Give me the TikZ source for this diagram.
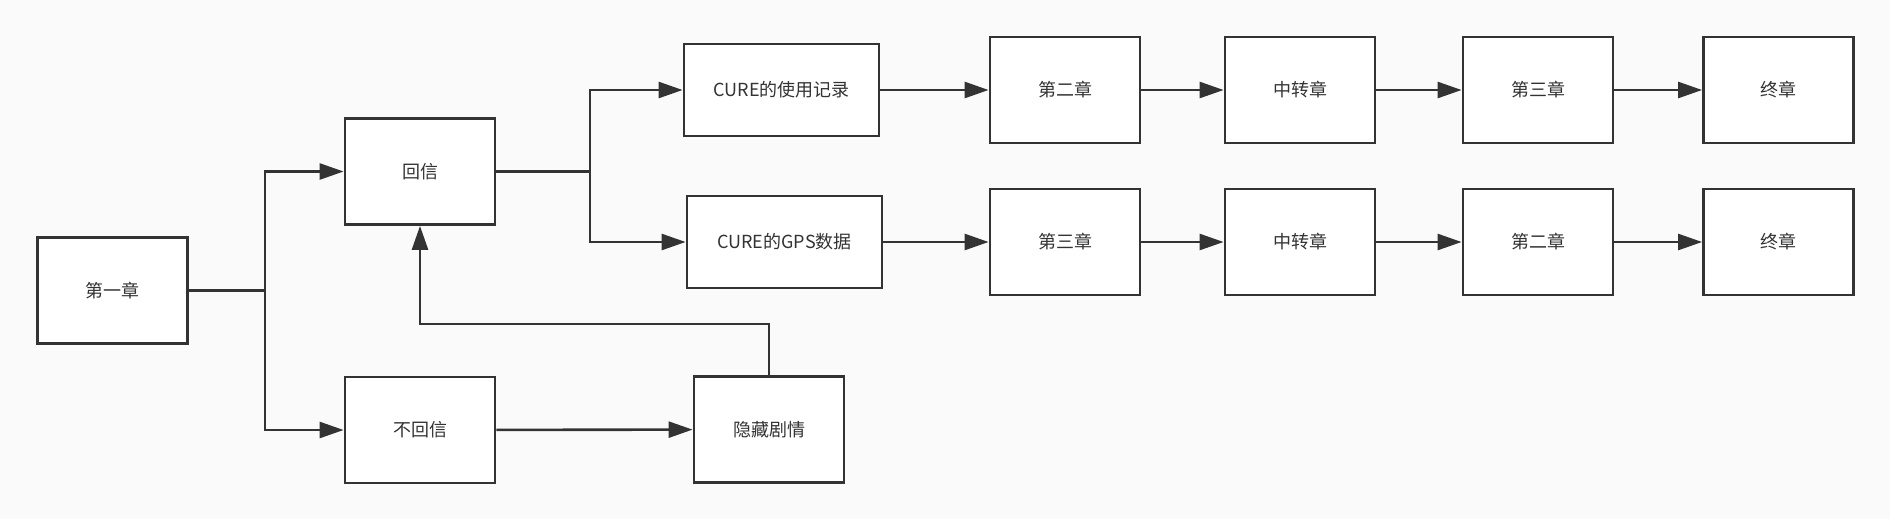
\documentclass[tikz,border=0pt]{standalone}
\usepackage{fontspec}
\setmainfont{Noto Sans CJK SC}
\usetikzlibrary{arrows.meta}
\definecolor{ink}{HTML}{333333}
\definecolor{bg}{HTML}{FAFAFA}
\begin{document}
\begin{tikzpicture}[x=1pt, y=-1pt]
 \tikzset{
  box/.style={rectangle, draw=ink, fill=white, line width=2.8pt, minimum width=150pt, minimum height=106pt, inner sep=0pt, text=ink, font=\fontsize{18}{20}\selectfont},
  wide/.style={box, minimum width=195pt, minimum height=92pt},
  con/.style={-{Triangle[length=24pt, width=16pt]}, draw=ink, line width=2.6pt},
  lin/.style={draw=ink, line width=2.6pt}
 }
 \def\ytop{90}
 \def\ybot{242}

 \path [fill=bg] (0,0) rectangle (1890,519);

 \node [box] (ch1) at (112.5,290.5) {第一章};
 \node [box] (reply) at (420,171.5) {回信};
 \node [box] (noreply) at (420,430) {不回信};
 \node [box] (hidden) at (769,429.5) {隐藏剧情};
 \node [wide] (log) at (781.5,\ytop) {CURE的使用记录};
 \node [wide] (gps) at (784.5,\ybot) {CURE的GPS数据};

 \foreach \x/\t [count=\i] in {1065/第二章, 1300/中转章, 1538/第三章, 1778.5/终章}
  { \node [box] (top\i) at (\x,\ytop) {\t}; }
 \foreach \x/\t [count=\i] in {1065/第三章, 1300/中转章, 1538/第二章, 1778.5/终章}
  { \node [box] (bot\i) at (\x,\ybot) {\t}; }

 \coordinate (fork1) at (265,290.5);
 \coordinate (fork2) at (590,171.5);
 \coordinate (back) at (769,324);

 \draw [lin] (ch1.east) -- (fork1);
 \draw [con] (fork1) |- (reply.west);
 \draw [con] (fork1) |- (noreply.west);
 \draw [lin] (reply.east) -- (fork2);
 \draw [con] (fork2) |- (log.west);
 \draw [con] (fork2) |- (gps.west);
 \draw [con] (noreply) -- (hidden);
 \draw [con] (hidden.north) -- (back) -| (reply.south);

 \draw [con] (log) -- (top1);
 \draw [con] (gps) -- (bot1);
 \foreach \a/\b in {1/2, 2/3, 3/4}
  { \draw [con] (top\a) -- (top\b);
    \draw [con] (bot\a) -- (bot\b); }
\end{tikzpicture}
\end{document}
